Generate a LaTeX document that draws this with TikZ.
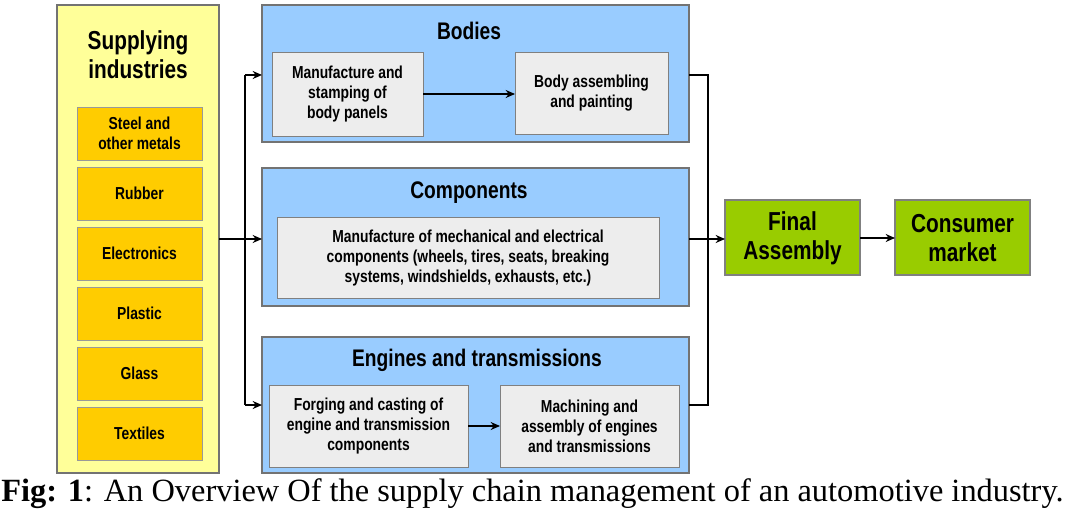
\documentclass[tikz,border=0pt]{standalone}
\usetikzlibrary{arrows.meta}
\usepackage{fontspec}
\setmainfont{Liberation Serif}
\newfontfamily\nar[FakeStretch=0.8]{Liberation Sans}
\definecolor{sky}{HTML}{99CCFF}
\definecolor{gold}{HTML}{FFCC00}
\definecolor{lime}{HTML}{99CC00}
\definecolor{pale}{HTML}{FFFF99}
\begin{document}
\begin{tikzpicture}[x=0.75pt,y=-0.75pt,
 panel/.style={draw=black!55,line width=0.8pt},
 yel/.style={panel,fill=pale},
 org/.style={draw=black!40,fill=gold,line width=0.6pt},
 blu/.style={panel,fill=sky},
 gry/.style={draw=black!50,fill=black!7,line width=0.6pt},
 grn/.style={draw=black!50,fill=lime,line width=0.8pt},
 lbl/.style={font=\nar\bfseries\fontsize{13}{15}\selectfont,align=center},
 ttl/.style={font=\nar\bfseries\fontsize{18}{20}\selectfont,align=center},
 arr/.style={-{Stealth[length=7pt,width=6pt]},line width=1.6pt},
 ln/.style={line width=1.6pt}]
\useasboundingbox (0,0) rectangle (1080,513);
\draw[yel] (57,5) rectangle (219,473);
\node[ttl,font=\nar\bfseries\fontsize{19.5}{21.5}\selectfont] (sup) at (138,55) {Supplying\\industries};
\foreach \n/\t/\y in {st/{Steel and\\other metals}/107,ru/Rubber/167,el/Electronics/227,pl/Plastic/287,gl/Glass/347,te/Textiles/407}{
 \draw[org] (77,\y) rectangle (202,\y+53);
 \node[lbl] (\n) at (139.5,\y+26.5) {\t};}
% Bodies
\draw[blu] (262,5) rectangle (689,142);
\node[ttl] (bt) at (469,31) {Bodies};
\draw[gry] (272,52) rectangle (423,136); \node[lbl] (b1) at (347.5,94) {Manufacture and\\stamping of\\body panels};
\draw[gry] (515,52) rectangle (668,134); \node[lbl] (b2) at (591.5,93) {Body assembling\\and painting};
\draw[arr] (423,94) -- (515,94);
% Components
\draw[blu] (262,168) rectangle (689,306);
\node[ttl] (ct) at (469,193) {Components};
\draw[gry] (277,217) rectangle (659,298);
\node[lbl] (c1) at (468,258) {Manufacture of mechanical and electrical\\components (wheels, tires, seats, breaking\\systems, windshields, exhausts, etc.)};
% Engines
\draw[blu] (262,337) rectangle (689,473);
\node[ttl] (et) at (477,360) {Engines and transmissions};
\draw[gry] (269,385) rectangle (468,467); \node[lbl] (e1) at (368.5,426) {Forging and casting of\\engine and transmission\\components};
\draw[gry] (500,385) rectangle (679,467); \node[lbl] (e2) at (589.5,426) {Machining and\\assembly of engines\\and transmissions};
\draw[arr,line width=1.2pt] (468,426) -- (500,426);
% Final
\draw[grn] (725,200) rectangle (860,275); \node[ttl,font=\nar\bfseries\fontsize{19.5}{21.5}\selectfont] (fa) at (792.5,238) {Final\\Assembly};
\draw[grn] (895,200) rectangle (1030,275); \node[ttl,font=\nar\bfseries\fontsize{19.5}{21.5}\selectfont] (cm) at (962.5,238) {Consumer\\market};
% connectors
\draw[ln] (219,239) -- (245,239);
\draw[ln] (245,75) -- (245,405);
\draw[arr] (245,75) -- (262,75);
\draw[arr] (245,239) -- (262,239);
\draw[arr] (245,405) -- (262,405);
\draw[ln] (689,75) -- (708,75) -- (708,405) -- (689,405);
\draw[arr] (689,239) -- (725,239);
\draw[arr] (860,238) -- (895,238);
\node[anchor=west,font=\fontsize{24.3}{26}\selectfont,inner sep=0] (cap) at (1,494) {\textbf{Fig: 1}: An Overview Of the supply chain management of an automotive industry.};
\end{tikzpicture}
\end{document}
